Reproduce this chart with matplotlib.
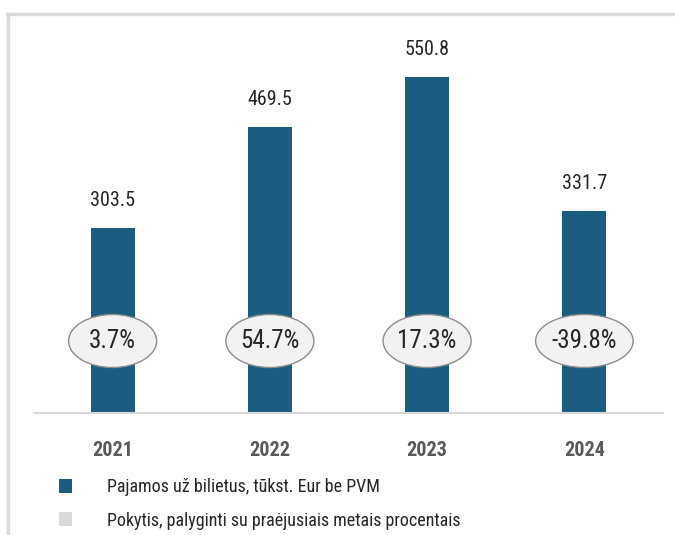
import matplotlib
matplotlib.use("Agg")
import matplotlib.pyplot as plt
from matplotlib.patches import Ellipse, Patch
from matplotlib.lines import Line2D

years = ["2021", "2022", "2023", "2024"]
revenue = [303.5, 469.5, 550.8, 331.7]
change_labels = ["3.7%", "54.7%", "17.3%", "-39.8%"]
legend_labels = ["Pajamos už bilietus, tūkst. Eur be PVM",
                 "Pokytis, palyginti su praėjusiais metais procentais"]

plt.rcParams['font.family'] = ["Roboto Condensed", "DejaVu Sans"]

BAR = "#1a5d80"
W, H = 675, 535
fig = plt.figure(figsize=(W/100, H/100), dpi=100)
ax = fig.add_axes([34/W, (H-413)/H, 629/W, (413-30)/H])

x = list(range(len(years)))
ax.bar(x, revenue, width=0.28, color=BAR, zorder=2)
ax.set_xlim(-0.5, 3.5)
ax.set_ylim(0, 383/0.61)

for xi, v in zip(x, revenue):
    ax.annotate(f"{v:.1f}", (xi, v), xytext=(0, 13), textcoords="offset points",
                ha="center", va="bottom", fontsize=14.5, color="#262626")

yc = (413-341)/0.61
for xi, lab in zip(x, change_labels):
    w = 0.56 if len(lab) <= 5 else 0.62
    e = Ellipse((xi, yc), w, 53/0.61, facecolor="#f2f2f2", edgecolor="#8c8c8c",
                linewidth=1.0, zorder=3)
    ax.add_patch(e)
    ax.text(xi, yc, lab, ha="center", va="center", fontsize=18, fontweight="normal",
            color="#262626", zorder=4)

for s in ["top", "right", "left"]:
    ax.spines[s].set_visible(False)
ax.spines["bottom"].set_color("#d9d9d9")
ax.spines["bottom"].set_linewidth(1.5)
ax.set_yticks([])
ax.set_xticks(x)
ax.set_xticklabels(years, fontsize=14.5, fontweight="bold", color="#595959")
ax.tick_params(axis="x", length=0, pad=20)

handles = [Patch(facecolor=BAR, edgecolor="none"), Patch(facecolor="#d9d9d9", edgecolor="none")]
fig.legend(handles, legend_labels, loc="upper left", bbox_to_anchor=(52/W, 1-471/H),
           frameon=False, fontsize=13, handlelength=0.72, handleheight=0.78,
           handletextpad=1.95, labelspacing=0.85, labelcolor="#262626", borderaxespad=0)

# outer frame
fig.add_artist(Line2D([7/W, 1], [1-14/H, 1-14/H], color="#d9d9d9", linewidth=2.5))
fig.add_artist(Line2D([8/W, 8/W], [0, 1-14/H], color="#d9d9d9", linewidth=2.5))

fig.savefig("out.png", dpi=100)
